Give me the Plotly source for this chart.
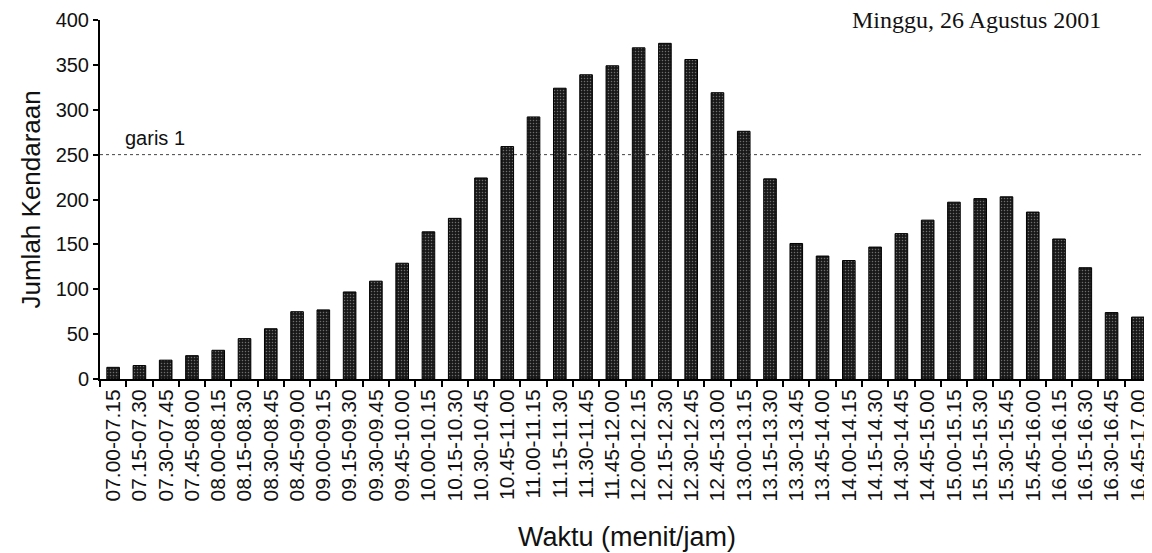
import plotly.graph_objects as go

categories = [
    "07.00-07.15", "07.15-07.30", "07.30-07.45", "07.45-08.00",
    "08.00-08.15", "08.15-08.30", "08.30-08.45", "08.45-09.00",
    "09.00-09.15", "09.15-09.30", "09.30-09.45", "09.45-10.00",
    "10.00-10.15", "10.15-10.30", "10.30-10.45", "10.45-11.00",
    "11.00-11.15", "11.15-11.30", "11.30-11.45", "11.45-12.00",
    "12.00-12.15", "12.15-12.30", "12.30-12.45", "12.45-13.00",
    "13.00-13.15", "13.15-13.30", "13.30-13.45", "13.45-14.00",
    "14.00-14.15", "14.15-14.30", "14.30-14.45", "14.45-15.00",
    "15.00-15.15", "15.15-15.30", "15.30-15.45", "15.45-16.00",
    "16.00-16.15", "16.15-16.30", "16.30-16.45", "16.45-17.00",
]
jumlah_kendaraan = [
    13, 15, 21, 26, 32, 45, 56, 75, 77, 97, 109, 129,
    164, 179, 224, 259, 292, 324, 339, 349, 369, 374, 356, 319,
    276, 223, 151, 137, 132, 147, 162, 177, 197, 201, 203, 186,
    156, 124, 74, 69,
]
garis_1 = 250
y_ticks = [0, 50, 100, 150, 200, 250, 300, 350, 400]

SANS = "Liberation Sans, Arial, sans-serif"
SERIF = "Liberation Serif, Times New Roman, serif"

fig = go.Figure()
fig.add_trace(go.Bar(
    x=categories,
    y=jumlah_kendaraan,
    marker=dict(
        color="#1c1c1c",
        line=dict(color="#000000", width=1),
        pattern=dict(shape=".", bgcolor="#181818", fgcolor="#6e6e6e",
                     size=3, solidity=0.2, fillmode="replace"),
    ),
    showlegend=False,
))

fig.add_shape(type="line", xref="paper", yref="y", x0=0, x1=1,
              y0=garis_1, y1=garis_1,
              line=dict(color="#444444", width=1, dash="dot"))

fig.add_annotation(text="garis 1", xref="paper", yref="y",
                   x=0.022, y=268, xanchor="left", yanchor="middle",
                   showarrow=False, font=dict(family=SANS, size=20, color="#111"))
fig.add_annotation(text="Minggu, 26 Agustus 2001", xref="paper", yref="paper",
                   x=0.954, y=1.0, xanchor="right", yanchor="middle",
                   showarrow=False, font=dict(family=SERIF, size=24, color="#111"))
fig.add_annotation(text="Jumlah Kendaraan", xref="paper", yref="paper",
                   x=-0.0666, y=0.5, xanchor="center", yanchor="middle",
                   textangle=-90, showarrow=False,
                   font=dict(family=SANS, size=26, color="#111"))
fig.add_annotation(text="Waktu (menit/jam)", xref="paper", yref="paper",
                   x=0.501, y=-0.44, xanchor="center", yanchor="middle",
                   showarrow=False, font=dict(family=SANS, size=27, color="#111"))

fig.update_layout(
    width=1144, height=545,
    margin=dict(l=92, r=1, t=12, b=174),
    paper_bgcolor="white", plot_bgcolor="white",
    bargap=0.52,
    font=dict(family=SANS, color="#111"),
)
fig.update_xaxes(
    type="category", tickangle=-90, tickson="boundaries",
    ticks="outside", ticklen=6, tickwidth=1.5, tickcolor="#000",
    showline=True, linecolor="#000", linewidth=2,
    showgrid=False, tickfont=dict(family=SANS, size=21, color="#111"),
)
fig.update_yaxes(
    range=[0, 400], tickvals=y_ticks,
    ticks="outside", ticklen=5, tickwidth=1.5, tickcolor="#000",
    showline=True, linecolor="#000", linewidth=2,
    showgrid=False, zeroline=False,
    tickfont=dict(family=SANS, size=20, color="#111"),
)

fig.write_html("out.html")
